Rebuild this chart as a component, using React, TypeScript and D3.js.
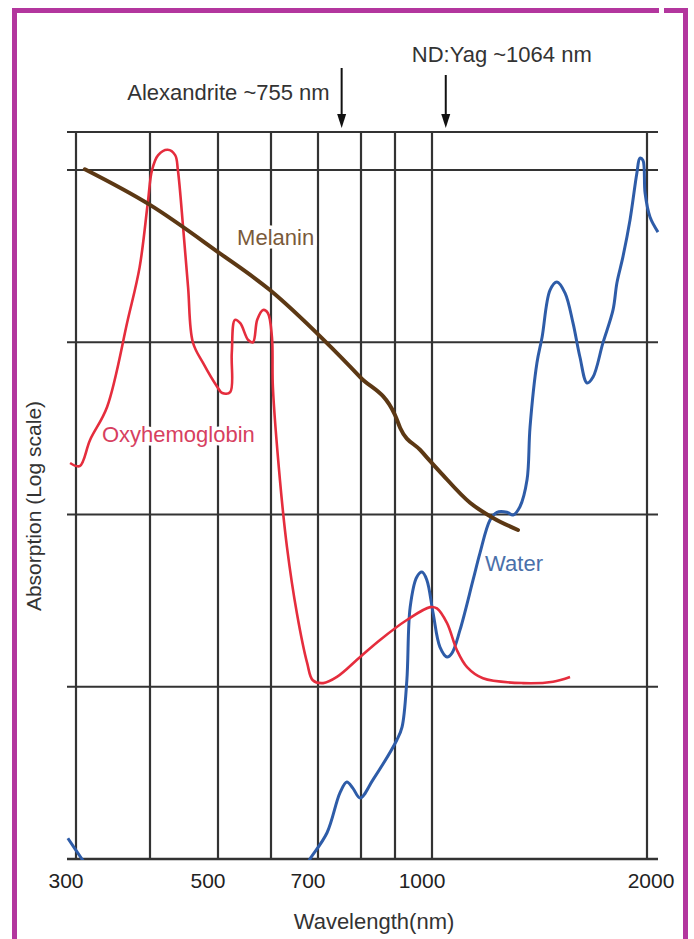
import React, { useEffect, useRef } from "react";
import * as d3 from "d3";

// wavelength grid (nm) and the labelled ticks
const gridWavelengths = [300, 400, 500, 600, 700, 800, 900, 1000, 2000];
const tickLabels = [300, 500, 700, 1000, 2000];
const gridDecades = [0.1, 1, 10, 100];

// Melanin
const melaninWavelength = [312, 400, 500, 598, 712, 798, 900, 914, 968, 1037, 1177, 1284, 1400];
const melaninAbsorption = [101, 62.7, 33.4, 20.1, 10.4, 6.28, 3.78, 3.18, 2.37, 1.77, 1.17, 0.955, 0.813];

// Oxyhemoglobin
const oxyWavelength = [292, 305, 319, 342, 370, 386, 397, 403, 412, 426, 437, 441, 449, 456, 463, 478, 499, 508, 523, 526, 532, 542, 557, 566, 574, 585, 594, 602, 604, 619, 634, 655, 677, 689, 712, 744, 798, 856, 932, 995, 1023, 1070, 1116, 1163, 1237, 1423, 1563, 1642];
const oxyAbsorption = [1.99, 1.91, 2.71, 4.21, 13.5, 27.3, 64.3, 100, 122, 131, 122, 100, 44.9, 20.9, 10.0, 7.58, 5.5, 5.07, 5.14, 8.66, 13.5, 12.9, 10.3, 10.0, 13.5, 15.4, 14.8, 10.7, 5.5, 1.59, 0.647, 0.268, 0.137, 0.109, 0.105, 0.114, 0.149, 0.187, 0.244, 0.29, 0.285, 0.234, 0.163, 0.13, 0.112, 0.105, 0.107, 0.114];

// Water (null = curve drops below the chart)
const waterWavelength = [289, 308, 316, null, 672, 683, 721, 751, 767, 781, 798, 835, 905, 919, 932, 941, 959, 973, 986, 1005, 1037, 1070, 1093, 1130, 1191, 1223, 1270, 1302, 1349, 1377, 1409, 1442, 1456, 1488, 1512, 1549, 1581, 1619, 1656, 1688, 1721, 1749, 1795, 1842, 1860, 1888, 1921, 1953, 1967, 1981, 1991, 2014, 2051];
const waterAbsorption = [0.0132, 0.01, 0.0089, null, 0.0089, 0.01, 0.0142, 0.0242, 0.028, 0.0258, 0.0226, 0.0288, 0.0491, 0.0583, 0.109, 0.29, 0.434, 0.463, 0.417, 0.268, 0.17, 0.149, 0.157, 0.213, 0.417, 0.597, 0.929, 1.03, 1.03, 0.993, 1.11, 1.59, 3.22, 7.58, 10.7, 20.1, 22.4, 19.3, 12.9, 8.21, 5.8, 6.28, 9.91, 15.4, 22.1, 31.3, 51.3, 96.1, 117, 114, 73.5, 53.3, 43.6];

const seriesNames = ["Melanin", "Oxyhemoglobin", "Water"];
const labelWavelength = [536, 335, 1247];
const labelAbsorption = [36.7, 2.64, 0.47];

const lasers = ["Alexandrite ~755 nm", "ND:Yag ~1064 nm"];
const laserWavelength = [755, 1064];

const zip = (xs, ys) => xs.map((w, i) => ({ w, a: ys[i] }));

const App = () => {
  const svgRef = useRef();

  useEffect(() => {
    const width = 694,
      height = 939;
    const left = 67,
      right = 658,
      top = 132,
      bottom = 859;
    const font = "'Liberation Sans', Arial, sans-serif";

    const svg = d3.select(svgRef.current);
    svg.selectAll("*").remove();
    svg.attr("width", width).attr("height", height).style("font-family", font);

    svg.append("rect").attr("width", width).attr("height", height).attr("fill", "#fff");

    // the wavelength axis of the source is not evenly spaced
    const x = d3
      .scaleLinear()
      .domain(gridWavelengths)
      .range([76, 150, 218, 271, 318, 361, 395, 432, 647]);
    const y = d3.scaleLog().domain([0.01, 100]).range([bottom, 170]);

    const grid = svg.append("g").attr("stroke", "#333").attr("stroke-width", 2.2);
    grid
      .selectAll(".v")
      .data(gridWavelengths)
      .enter()
      .append("line")
      .attr("x1", (d) => x(d))
      .attr("x2", (d) => x(d))
      .attr("y1", top)
      .attr("y2", bottom);
    grid
      .selectAll(".h")
      .data(gridDecades)
      .enter()
      .append("line")
      .attr("x1", left)
      .attr("x2", right)
      .attr("y1", (d) => y(d))
      .attr("y2", (d) => y(d));
    grid.append("line").attr("x1", left).attr("x2", right).attr("y1", top).attr("y2", top);
    grid
      .append("line")
      .attr("x1", left)
      .attr("x2", right)
      .attr("y1", bottom)
      .attr("y2", bottom)
      .attr("stroke-width", 2.6);

    // tick labels
    svg
      .append("g")
      .selectAll("text")
      .data(tickLabels)
      .enter()
      .append("text")
      .attr("x", (d) => x(d) + (d === 2000 ? 4 : -10))
      .attr("y", 888)
      .attr("text-anchor", "middle")
      .attr("font-size", 21)
      .attr("fill", "#222")
      .text((d) => d);

    svg
      .append("text")
      .attr("x", 374)
      .attr("y", 929)
      .attr("text-anchor", "middle")
      .attr("font-size", 22)
      .attr("fill", "#333")
      .text("Wavelength(nm)");

    svg
      .append("text")
      .attr("transform", "translate(41,506) rotate(-90)")
      .attr("text-anchor", "middle")
      .attr("font-size", 21)
      .attr("fill", "#333")
      .text("Absorption (Log scale)");

    // series labels sit on a white halo that breaks the grid
    const labelColors = ["#7a5a3a", "#d7405f", "#4a70aa"];
    svg
      .append("g")
      .selectAll("text")
      .data(seriesNames)
      .enter()
      .append("text")
      .attr("x", (d, i) => x(labelWavelength[i]))
      .attr("y", (d, i) => y(labelAbsorption[i]))
      .attr("font-size", 22)
      .attr("fill", (d, i) => labelColors[i])
      .attr("stroke", "#fff")
      .attr("stroke-width", 7)
      .attr("stroke-linejoin", "round")
      .attr("paint-order", "stroke")
      .text((d) => d);

    svg
      .append("clipPath")
      .attr("id", "plotClip")
      .append("rect")
      .attr("x", 0)
      .attr("y", top - 20)
      .attr("width", width)
      .attr("height", bottom - top + 21);

    const line = d3
      .line()
      .defined((d) => d.a != null)
      .x((d) => x(d.w))
      .y((d) => y(d.a))
      .curve(d3.curveCatmullRom.alpha(0.5));

    const smoothLine = d3
      .line()
      .x((d) => x(d.w))
      .y((d) => y(d.a))
      .curve(d3.curveMonotoneX);

    const curves = svg.append("g").attr("clip-path", "url(#plotClip)").attr("fill", "none");
    curves
      .append("path")
      .attr("d", line(zip(waterWavelength, waterAbsorption)))
      .attr("stroke", "#2e5ca8")
      .attr("stroke-width", 3);
    curves
      .append("path")
      .attr("d", line(zip(oxyWavelength, oxyAbsorption)))
      .attr("stroke", "#e52d3d")
      .attr("stroke-width", 2.6);
    curves
      .append("path")
      .attr("d", smoothLine(zip(melaninWavelength, melaninAbsorption)))
      .attr("stroke", "#5c3814")
      .attr("stroke-width", 4)
      .attr("stroke-linecap", "round");

    // laser arrows
    const arrowTop = [68, 75];
    const arrows = svg.append("g");
    lasers.forEach((name, i) => {
      const ax = x(laserWavelength[i]);
      arrows
        .append("line")
        .attr("x1", ax)
        .attr("x2", ax)
        .attr("y1", arrowTop[i])
        .attr("y2", 120)
        .attr("stroke", "#111")
        .attr("stroke-width", 2);
      arrows
        .append("path")
        .attr("d", `M${ax - 4.5},114 L${ax + 4.5},114 L${ax},128 Z`)
        .attr("fill", "#111");
    });
    svg
      .append("text")
      .attr("x", x(laserWavelength[0]) - 12)
      .attr("y", 100)
      .attr("text-anchor", "end")
      .attr("font-size", 22)
      .attr("fill", "#333")
      .text(lasers[0]);
    svg
      .append("text")
      .attr("x", x(laserWavelength[1]) - 34)
      .attr("y", 62)
      .attr("font-size", 22)
      .attr("fill", "#333")
      .text(lasers[1]);

    // magenta frame
    svg
      .append("path")
      .attr("d", `M14.5,${height + 10} V10.5 H659 M664,10.5 H685.5 V${height + 10}`)
      .attr("fill", "none")
      .attr("stroke", "#b3369e")
      .attr("stroke-width", 5);
  }, []);

  return (
    <svg
      ref={svgRef}
      style={{ position: "absolute", left: 0, top: 0, display: "block" }}
    ></svg>
  );
};

export default App;
